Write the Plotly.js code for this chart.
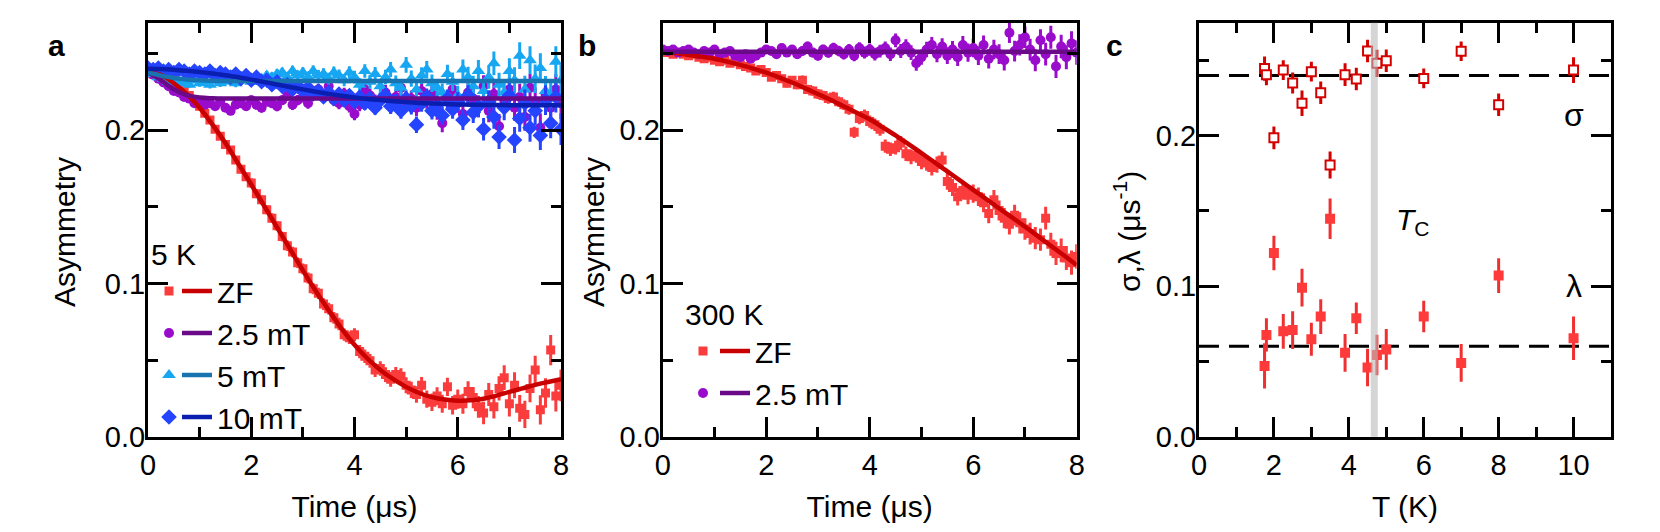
<!DOCTYPE html>
<html>
<head>
<meta charset="utf-8">
<script src="https://cdn.plot.ly/plotly-3.0.1.min.js"></script>
<style>
  html, body { margin: 0; padding: 0; background: #fff; }
  #myPlot { width: 1660px; height: 532px; }
</style>
</head>
<body>
<div id="myPlot"></div>
<script>
// time bins (us) shared by panels a and b
var timeBins = [0,0.1,0.2,0.3,0.4,0.5,0.6,0.7,0.8,0.9,
  1,1.1,1.2,1.3,1.4,1.5,1.6,1.7,1.8,1.9,
  2,2.1,2.2,2.3,2.4,2.5,2.6,2.7,2.8,2.9,
  3,3.1,3.2,3.3,3.4,3.5,3.6,3.7,3.8,3.9,
  4,4.1,4.2,4.3,4.4,4.5,4.6,4.7,4.8,4.9,
  5,5.1,5.2,5.3,5.4,5.5,5.6,5.7,5.8,5.9,
  6,6.1,6.2,6.3,6.4,6.5,6.6,6.7,6.8,6.9,
  7,7.1,7.2,7.3,7.4,7.5,7.6,7.7,7.8,7.9,
  8];
var fitTime = [0,0.25,0.5,0.75,1,1.25,1.5,1.75,2,2.25,2.5,2.75,3,3.25,3.5,3.75,4,
  4.25,4.5,4.75,5,5.25,5.5,5.75,6,6.25,6.5,6.75,7,7.25,7.5,7.75,8];

// panel a, 5 K
var zfA = [0.238,0.2365,0.2355,0.234,0.232,0.2295,0.2285,0.2255,0.2225,0.219,
  0.2155,0.211,0.2065,0.2005,0.196,0.1905,0.187,0.1805,0.1745,0.1695,
  0.1655,0.1585,0.1545,0.148,0.1425,0.1375,0.1305,0.1245,0.1205,0.1135,
  0.1095,0.1035,0.0965,0.0935,0.0865,0.0835,0.0775,0.0735,0.0665,0.0645,
  0.0665,0.0555,0.0525,0.0495,0.0435,0.0445,0.0405,0.0375,0.0405,0.0395,
  0.0335,0.0305,0.0275,0.0335,0.0245,0.0225,0.0265,0.0215,0.0325,0.0205,
  0.0245,0.0215,0.0295,0.0255,0.0195,0.0155,0.0275,0.0195,0.0315,0.0385,
  0.0215,0.0335,0.0185,0.0145,0.0315,0.0435,0.0175,0.0285,0.0565,0.0265,
  0.0335];
var mT25A = [0.2375,0.236,0.2335,0.231,0.2285,0.2255,0.2245,0.2215,0.2205,0.2175,
  0.2185,0.2165,0.2175,0.2155,0.2185,0.2145,0.2125,0.2165,0.2175,0.2155,
  0.2195,0.2165,0.2145,0.2185,0.2175,0.2155,0.2195,0.2225,0.2165,0.2195,
  0.2215,0.2175,0.2235,0.2265,0.2215,0.2285,0.2195,0.2175,0.2235,0.2155,
  0.2105,0.2165,0.2265,0.2225,0.2185,0.2195,0.2245,0.2155,0.2215,0.2275,
  0.2185,0.2205,0.2145,0.2255,0.2195,0.2235,0.2125,0.2045,0.2195,0.2265,
  0.2175,0.2105,0.2245,0.2205,0.2155,0.2285,0.2125,0.2235,0.2025,0.2195,
  0.2265,0.2145,0.2215,0.2085,0.2275,0.2185,0.2015,0.2235,0.2145,0.2265,
  0.2175];
var mT5A = [0.2385,0.2365,0.2345,0.2335,0.2315,0.2325,0.2305,0.2315,0.2295,0.2325,
  0.2305,0.2315,0.2295,0.2325,0.2305,0.2335,0.2315,0.2305,0.2325,0.2345,
  0.2315,0.2325,0.2335,0.2355,0.2345,0.2365,0.2375,0.2345,0.2385,0.2355,
  0.2375,0.2345,0.2385,0.2355,0.2365,0.2335,0.2375,0.2355,0.2325,0.2375,
  0.2345,0.2295,0.2385,0.2315,0.2365,0.2285,0.2345,0.2395,0.2305,0.2275,
  0.2425,0.2335,0.2265,0.2355,0.2395,0.2305,0.2275,0.2245,0.2365,0.2315,
  0.2225,0.2395,0.2345,0.2285,0.2385,0.2255,0.2345,0.2435,0.2295,0.2245,
  0.2385,0.2325,0.2485,0.2265,0.2455,0.2335,0.2405,0.2255,0.2225,0.2445,
  0.2325];
var mT10A = [0.2405,0.2395,0.2405,0.2385,0.2395,0.2375,0.2395,0.2385,0.2365,0.2385,
  0.2375,0.2365,0.2385,0.2355,0.2375,0.2365,0.2345,0.2365,0.2335,0.2355,
  0.2325,0.2345,0.2315,0.2325,0.2295,0.2315,0.2285,0.2295,0.2265,0.2285,
  0.2255,0.2275,0.2235,0.2255,0.2215,0.2245,0.2205,0.2235,0.2195,0.2225,
  0.2185,0.2215,0.2175,0.2205,0.2145,0.2195,0.2225,0.2155,0.2185,0.2125,
  0.2205,0.2155,0.2035,0.2175,0.2215,0.2125,0.2165,0.2095,0.2205,0.2135,
  0.2185,0.2065,0.2225,0.2115,0.2155,0.2005,0.2185,0.2085,0.1955,0.2145,
  0.2225,0.1935,0.2075,0.2175,0.2015,0.2125,0.1965,0.2195,0.2045,0.2215,
  0.2005];
var errA = [0.002,0.002,0.002,0.002,0.002,0.002,0.002,0.002,0.002,0.002,
  0.0022,0.0022,0.0024,0.0024,0.0024,0.0026,0.0026,0.0026,0.0028,0.0028,
  0.003,0.003,0.003,0.003,0.0032,0.0032,0.0032,0.0034,0.0034,0.0034,
  0.0035,0.0036,0.0036,0.0037,0.0038,0.0038,0.0039,0.004,0.004,0.0041,
  0.0042,0.0043,0.0044,0.0045,0.0046,0.0047,0.0048,0.0049,0.005,0.0051,
  0.0052,0.0053,0.0054,0.0055,0.0056,0.0057,0.0058,0.0059,0.006,0.0061,
  0.0063,0.0065,0.0067,0.0069,0.0071,0.0073,0.0075,0.0077,0.0079,0.0081,
  0.0083,0.0085,0.0087,0.0089,0.0091,0.0093,0.0095,0.0097,0.0099,0.0101,
  0.0103];
var zfFitA = [0.2375,0.236,0.2305,0.2235,0.2145,0.2035,0.1915,0.178,0.1645,0.1505,0.1365,
  0.1225,0.1085,0.095,0.0825,0.0705,0.06,0.051,0.0435,0.0375,0.0325,0.0285,0.0258,
  0.0242,0.0235,0.0237,0.0248,0.0268,0.0292,0.0315,0.0338,0.0357,0.0375];
var mT25FitA = [0.2375,0.2325,0.2265,0.2228,0.2212,0.2207,0.2205,0.2205,0.2205,0.2205,0.2205,
  0.2205,0.2205,0.2205,0.2205,0.2205,0.2205,0.2205,0.2205,0.2205,0.2205,0.2205,0.2205,
  0.2205,0.2205,0.2205,0.2205,0.2205,0.2205,0.2205,0.2205,0.2205,0.2205];
var mT5FitA = [0.2375,0.2355,0.234,0.233,0.2325,0.2322,0.232,0.232,0.232,0.232,0.232,
  0.232,0.232,0.232,0.232,0.232,0.232,0.232,0.232,0.232,0.232,0.232,0.232,
  0.232,0.232,0.232,0.232,0.232,0.232,0.232,0.232,0.232,0.232];
var mT10FitA = [0.24,0.2398,0.2393,0.2386,0.2378,0.2369,0.2357,0.2344,0.2329,0.2313,0.2297,
  0.2281,0.2265,0.225,0.2236,0.2224,0.2213,0.2203,0.2195,0.2188,0.2182,0.2177,0.2173,
  0.217,0.2167,0.2165,0.2164,0.2163,0.2162,0.2162,0.2161,0.2161,0.2161];

// panel b, 300 K
var zfB = [0.2505,0.2505,0.2495,0.2505,0.2495,0.2485,0.2495,0.2475,0.2465,0.2475,
  0.2455,0.2445,0.2455,0.2435,0.2445,0.2425,0.2415,0.2405,0.2385,0.2395,
  0.2375,0.2345,0.2355,0.2335,0.2305,0.2325,0.2295,0.2325,0.2265,0.2255,
  0.2235,0.2225,0.2205,0.2215,0.2185,0.2165,0.2135,0.1985,0.2075,0.2095,
  0.2055,0.2035,0.2005,0.1895,0.1875,0.1885,0.1915,0.1845,0.1825,0.1835,
  0.1795,0.1785,0.1755,0.1775,0.1805,0.1665,0.1625,0.1565,0.1605,0.1575,
  0.1585,0.1565,0.1525,0.1455,0.1545,0.1475,0.1425,0.1385,0.1445,0.1395,
  0.1355,0.1325,0.1295,0.1285,0.1425,0.1255,0.1195,0.1215,0.1165,0.1135,
  0.1175];
var mT25B = [0.2525,0.2515,0.2525,0.2505,0.2515,0.2525,0.2505,0.2495,0.2515,0.2505,
  0.2525,0.2495,0.2505,0.2515,0.2485,0.2475,0.2495,0.2465,0.2485,0.2505,
  0.2525,0.2515,0.2495,0.2535,0.2505,0.2525,0.2495,0.2515,0.2545,0.2505,
  0.2485,0.2525,0.2505,0.2535,0.2515,0.2495,0.2525,0.2485,0.2535,0.2505,
  0.2525,0.2495,0.2515,0.2535,0.2495,0.2585,0.2515,0.2545,0.2505,0.2435,
  0.2475,0.2525,0.2555,0.2495,0.2545,0.2485,0.2525,0.2475,0.2555,0.2505,
  0.2535,0.2485,0.2555,0.2465,0.2525,0.2495,0.2455,0.2635,0.2515,0.2555,
  0.2605,0.2525,0.2455,0.2585,0.2495,0.2605,0.2415,0.2545,0.2475,0.2565,
  0.2505];
var errB = [0.002,0.002,0.002,0.002,0.002,0.002,0.002,0.002,0.002,0.002,
  0.0021,0.0021,0.0022,0.0022,0.0023,0.0023,0.0024,0.0024,0.0025,0.0025,
  0.0026,0.0026,0.0027,0.0027,0.0028,0.0028,0.0029,0.003,0.003,0.0031,
  0.0032,0.0032,0.0033,0.0034,0.0034,0.0035,0.0036,0.0037,0.0038,0.0039,
  0.004,0.0041,0.0042,0.0043,0.0044,0.0045,0.0046,0.0047,0.0048,0.0049,
  0.005,0.0051,0.0052,0.0053,0.0054,0.0055,0.0056,0.0057,0.0058,0.0059,
  0.006,0.0061,0.0062,0.0063,0.0064,0.0065,0.0066,0.0067,0.0068,0.0069,
  0.007,0.0071,0.0072,0.0073,0.0074,0.0075,0.0076,0.0077,0.0078,0.0079,
  0.008];
var zfFitB = [0.2505,0.2502,0.249,0.2478,0.2465,0.2446,0.2425,0.2401,0.2375,0.2344,0.231,
  0.2273,0.2235,0.2196,0.2155,0.2113,0.207,0.2018,0.1965,0.1908,0.185,0.179,0.173,
  0.167,0.161,0.155,0.149,0.143,0.137,0.1308,0.1245,0.1183,0.112];
var flatTimeB = [0, 8];
var mT25FitB = [0.251, 0.251];

// panel c, relaxation rates vs temperature
var tempC = [1.75,1.8,2.0,2.25,2.5,2.75,3.0,3.25,3.5,3.9,4.2,4.5,4.75,5.0,6.0,7.0,8.0,10.0];
var sigmaC = [0.2445,0.2405,0.1985,0.2435,0.235,0.2215,0.2425,0.2285,0.1805,0.2405,0.2376,
  0.2562,0.248,0.2497,0.238,0.256,0.2205,0.2435];
var sigmaErr = [0.008,0.007,0.0075,0.0065,0.007,0.0085,0.0065,0.0075,0.009,0.0075,0.0075,
  0.0075,0.009,0.0075,0.0065,0.0065,0.0075,0.0085];
var lambdaC = [0.047,0.0676,0.122,0.07,0.0708,0.099,0.0647,0.0798,0.1448,0.0557,0.0787,
  0.046,0.0543,0.058,0.0798,0.049,0.107,0.0654];
var lambdaErr = [0.015,0.011,0.0115,0.0115,0.0125,0.0125,0.011,0.0115,0.0135,0.0125,0.0105,
  0.0125,0.0135,0.0135,0.0105,0.0125,0.0115,0.0145];
var refT = [0, 11];
var sigmaRef = [0.24, 0.24];
var lambdaRef = [0.06, 0.06];
var tcValue = 4.68;

var font = "Liberation Sans, Arial, sans-serif";
var cZF = "#fb3c3c", cZFline = "#c80000";
var c25 = "#9a0ccc", c25line = "#6a0a88";
var c5 = "#16a6f2", c5line = "#1874b0";
var c10 = "#2444ff", c10line = "#0a1eb0";

function pts(x, y, err, color, symbol, size, xa, ya, leg) {
  return {
    x: x, y: y, type: "scatter", mode: "markers", name: "",
    xaxis: xa, yaxis: ya, legend: leg, showlegend: true,
    marker: {color: color, symbol: symbol, size: size, line: {width: 0}},
    error_y: {type: "data", array: err, visible: true, color: color, thickness: 3, width: 0}
  };
}
function fit(x, y, color, name, xa, ya, leg) {
  return {
    x: x, y: y, type: "scatter", mode: "lines", name: name,
    xaxis: xa, yaxis: ya, legend: leg, showlegend: true,
    line: {color: color, width: 4.5, shape: "spline"}
  };
}

var data = [
  pts(timeBins, zfA, errA, cZF, "square", 9, "x", "y", "legend"),
  pts(timeBins, mT25A, errA, c25, "circle", 10, "x", "y", "legend"),
  pts(timeBins, mT5A, errA, c5, "triangle-up", 12, "x", "y", "legend"),
  pts(timeBins, mT10A, errA, c10, "diamond", 12, "x", "y", "legend"),
  fit(fitTime, zfFitA, cZFline, "ZF", "x", "y", "legend2"),
  fit(fitTime, mT25FitA, c25line, "2.5 mT", "x", "y", "legend2"),
  fit(fitTime, mT5FitA, c5line, "5 mT", "x", "y", "legend2"),
  fit(fitTime, mT10FitA, c10line, "10 mT", "x", "y", "legend2"),

  pts(timeBins, zfB, errB, cZF, "square", 9, "x2", "y2", "legend3"),
  pts(timeBins, mT25B, errB, c25, "circle", 10, "x2", "y2", "legend3"),
  fit(fitTime, zfFitB, cZFline, "ZF", "x2", "y2", "legend4"),
  fit(flatTimeB, mT25FitB, c25line, "2.5 mT", "x2", "y2", "legend4"),

  {x: refT, y: sigmaRef, xaxis: "x3", yaxis: "y3", mode: "lines", showlegend: false,
   line: {color: "black", width: 3, dash: "20px,10px"}},
  {x: refT, y: lambdaRef, xaxis: "x3", yaxis: "y3", mode: "lines", showlegend: false,
   line: {color: "black", width: 3, dash: "20px,10px"}},
  {x: tempC, y: lambdaC, xaxis: "x3", yaxis: "y3", mode: "markers", showlegend: false,
   marker: {color: "#ff3a3a", symbol: "square", size: 10},
   error_y: {type: "data", array: lambdaErr, color: "#f03030", thickness: 3, width: 0}},
  {x: tempC, y: sigmaC, xaxis: "x3", yaxis: "y3", mode: "markers", showlegend: false,
   marker: {color: "white", symbol: "square", size: 9, line: {color: "#d40000", width: 2}},
   error_y: {type: "data", array: sigmaErr, color: "#d40000", thickness: 3, width: 0}}
];

function xAx(domain, range, title, anchor) {
  return {
    domain: domain, range: range, dtick: 2, tick0: 0, anchor: anchor,
    showline: true, linewidth: 3, linecolor: "black", mirror: "allticks",
    ticks: "inside", ticklen: 20, tickwidth: 3, tickcolor: "black",
    minor: {dtick: 1, ticks: "inside", ticklen: 10, tickwidth: 3, tickcolor: "black"},
    showgrid: false, zeroline: false,
    tickfont: {size: 29, color: "black"},
    title: {text: title, font: {size: 30, color: "black"}, standoff: 17}
  };
}
function yAx(domain, range, anchor) {
  return {
    domain: domain, range: range, dtick: 0.1, tick0: 0, tickformat: ".1f", anchor: anchor,
    showline: true, linewidth: 3, linecolor: "black", mirror: "allticks",
    ticks: "inside", ticklen: 20, tickwidth: 3, tickcolor: "black",
    minor: {dtick: 0.05, ticks: "inside", ticklen: 10, tickwidth: 3, tickcolor: "black"},
    showgrid: false, zeroline: false, ticklabelstandoff: -6,
    tickfont: {size: 29, color: "black"}
  };
}

var yDom = [1 - 436.7 / 532, 1 - 22.7 / 532];
var legFont = {size: 30, color: "black"};

function legendBox(xPx, topPx, title) {
  return {x: xPx / 1660, y: 1 - topPx / 532, xanchor: "left", yanchor: "top",
    bgcolor: "rgba(0,0,0,0)", font: legFont, itemwidth: 30, traceorder: "normal",
    title: {text: title, font: legFont}};
}

function yTitle(text, xPx) {
  return {text: text, xref: "paper", yref: "paper", x: xPx / 1660, y: 1 - 232 / 532,
    xanchor: "center", yanchor: "middle", textangle: -90, showarrow: false,
    font: {size: 30, color: "black"}};
}
function panelTag(text, xPx) {
  return {text: "<b>" + text + "</b>", xref: "paper", yref: "paper", x: xPx / 1660,
    y: 1 - 45 / 532, xanchor: "center", yanchor: "middle", showarrow: false,
    font: {size: 30, color: "black"}};
}

var layout = {
  width: 1660, height: 532,
  margin: {l: 0, r: 0, t: 0, b: 0},
  paper_bgcolor: "white", plot_bgcolor: "white",
  font: {family: font, color: "black"},
  xaxis: xAx([148 / 1660, 561 / 1660], [0, 8], "Time (μs)", "y"),
  yaxis: yAx(yDom, [0, 0.27], "x"),
  xaxis2: xAx([662.7 / 1660, 1076.7 / 1660], [0, 8], "Time (μs)", "y2"),
  yaxis2: yAx(yDom, [0, 0.27], "x2"),
  xaxis3: xAx([1199 / 1660, 1611 / 1660], [0, 11], "T (K)", "y3"),
  yaxis3: yAx(yDom, [0, 0.275], "x3"),
  legend: legendBox(149, 226, "5 K"),
  legend2: legendBox(177, 226, "\u00a0"),
  legend3: legendBox(683, 286, "300 K"),
  legend4: legendBox(715, 286, "\u00a0"),
  shapes: [
    {type: "line", xref: "x3", yref: "y3 domain", x0: tcValue, x1: tcValue, y0: 0, y1: 1,
     layer: "above", line: {color: "rgba(185,185,185,0.6)", width: 7}}
  ],
  annotations: [
    panelTag("a", 56), panelTag("b", 587), panelTag("c", 1114),
    yTitle("Asymmetry", 64), yTitle("Asymmetry", 593),
    yTitle("σ,λ (μs<sup>-1</sup>)", 1127),
    {text: "σ", xref: "x3", yref: "y3", x: 10, y: 0.2135, showarrow: false,
     font: {size: 32}},
    {text: "λ", xref: "x3", yref: "y3", x: 10, y: 0.1, showarrow: false,
     font: {size: 32}},
    {text: "<i>T</i><sub>C</sub>", xref: "x3", yref: "y3", x: 5.2, y: 0.143, xanchor: "left",
     showarrow: false, font: {size: 30}}
  ]
};

Plotly.newPlot("myPlot", data, layout, {staticPlot: true});
</script>
</body>
</html>
